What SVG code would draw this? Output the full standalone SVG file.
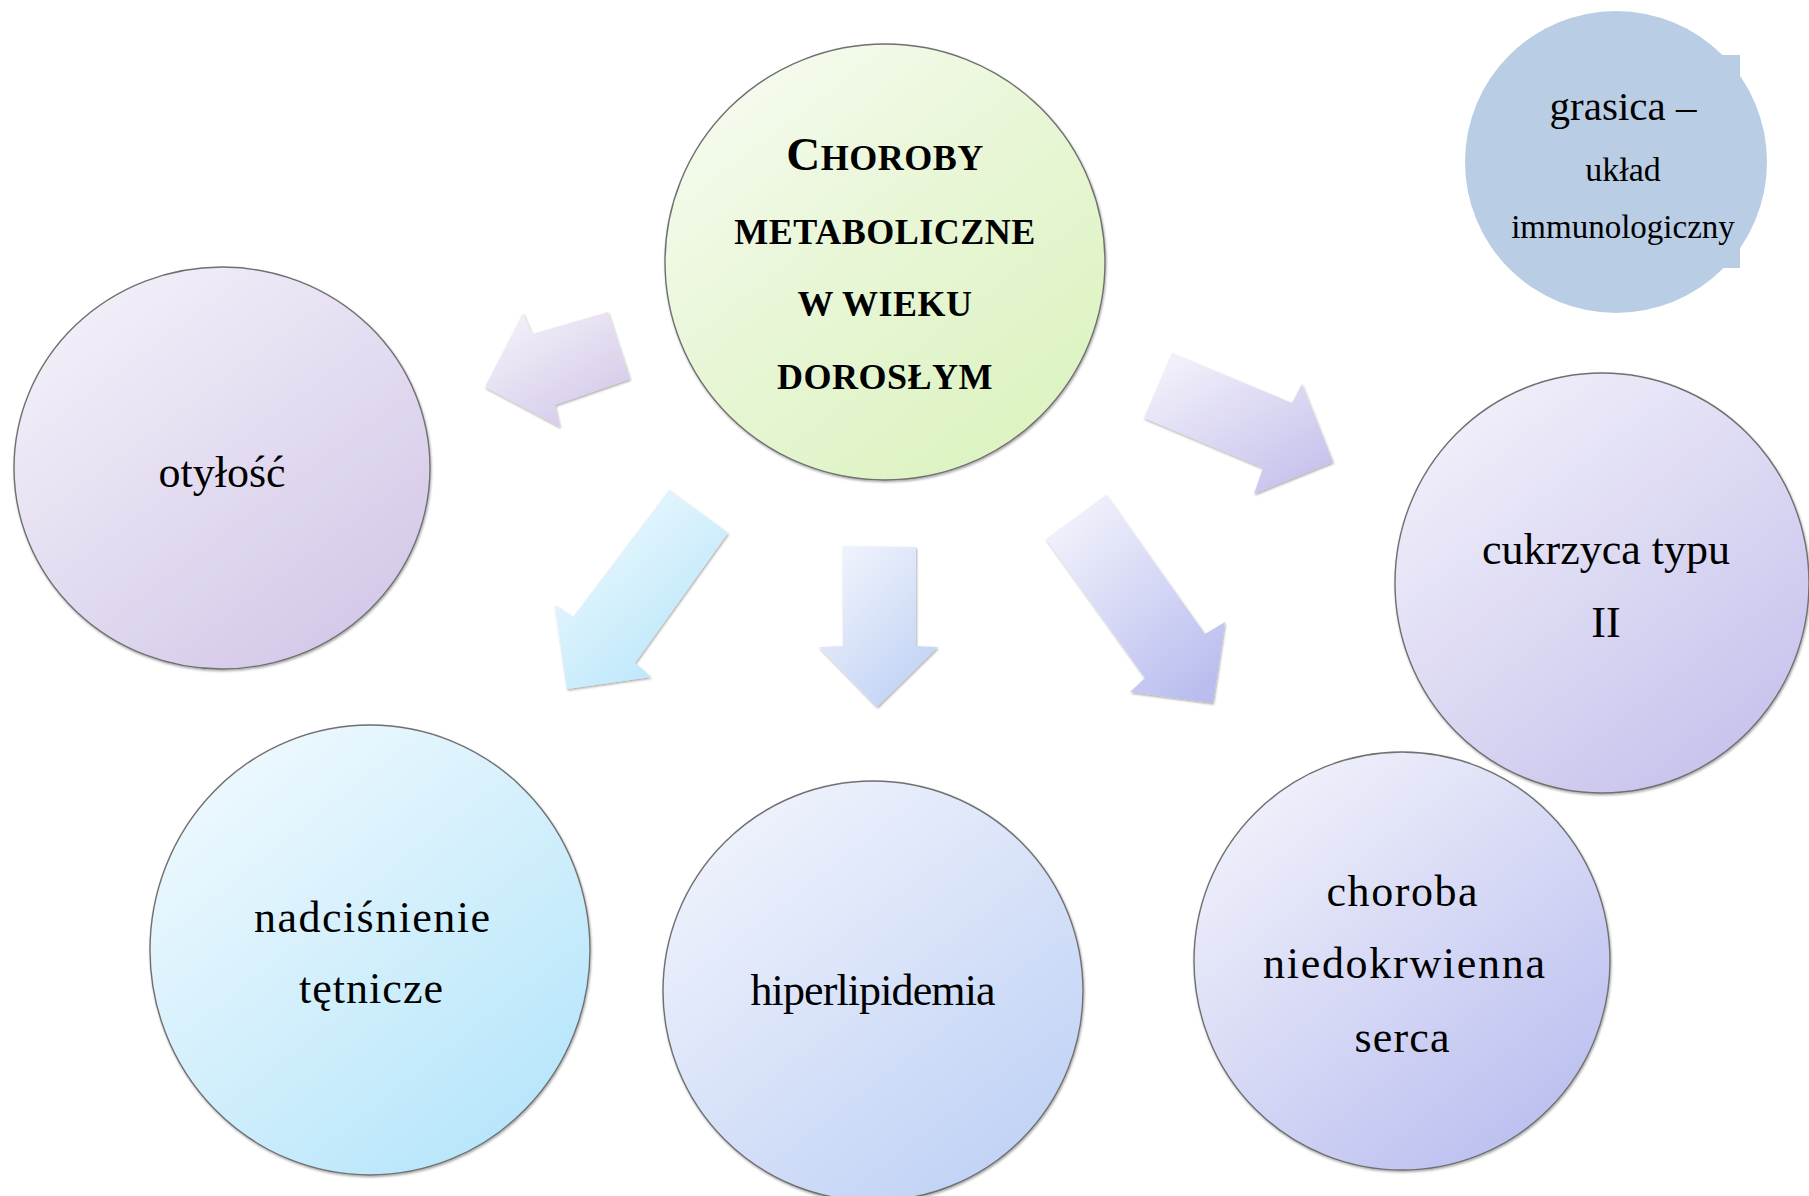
<svg xmlns="http://www.w3.org/2000/svg" width="1809" height="1196" viewBox="0 0 1809 1196">
  <style>
    .lbl { font-family: "Liberation Serif", "DejaVu Serif", serif; font-size: 44px; text-anchor: middle; fill: #000; }
    .hdr { font-family: "Liberation Serif", "DejaVu Serif", serif; font-weight: bold; font-size: 36px; text-anchor: middle; fill: #000; letter-spacing: 0.5px; }
    .gr { font-family: "Liberation Serif", "DejaVu Serif", serif; text-anchor: middle; fill: #000; }
    .circ { stroke: #707070; stroke-width: 1.4; filter: url(#sh); }
    .arr { stroke: none; filter: url(#sh); }
  </style>
  <defs>
    <filter id="sh" x="-10%" y="-10%" width="120%" height="120%">
      <feDropShadow dx="0.8" dy="1.5" stdDeviation="0.9" flood-color="#000" flood-opacity="0.35"/>
    </filter>
    <linearGradient id="gGreen" x1="0.15" y1="0.05" x2="0.85" y2="0.95">
      <stop offset="0" stop-color="#f6fbf0"/>
      <stop offset="0.45" stop-color="#e8f6d6"/>
      <stop offset="1" stop-color="#dcf3c0"/>
    </linearGradient>
    <linearGradient id="gPurple" x1="0.15" y1="0.05" x2="0.85" y2="0.95">
      <stop offset="0" stop-color="#f3f0f9"/>
      <stop offset="1" stop-color="#d3c7e8"/>
    </linearGradient>
    <linearGradient id="gLav" x1="0.15" y1="0.05" x2="0.85" y2="0.95">
      <stop offset="0" stop-color="#f1f0fa"/>
      <stop offset="1" stop-color="#c6c1ec"/>
    </linearGradient>
    <linearGradient id="gCyan" x1="0.15" y1="0.05" x2="0.85" y2="0.95">
      <stop offset="0" stop-color="#eff9fe"/>
      <stop offset="1" stop-color="#b5e5fa"/>
    </linearGradient>
    <linearGradient id="gBlue" x1="0.15" y1="0.05" x2="0.85" y2="0.95">
      <stop offset="0" stop-color="#f0f3fc"/>
      <stop offset="1" stop-color="#bfd1f5"/>
    </linearGradient>
    <linearGradient id="gPeri" x1="0.15" y1="0.05" x2="0.85" y2="0.95">
      <stop offset="0" stop-color="#f1f2fb"/>
      <stop offset="1" stop-color="#babeef"/>
    </linearGradient>
  </defs>

  <rect width="1809" height="1196" fill="#ffffff"/>

  <g id="connectors">
    <polygon class="arr" fill="url(#gPurple)" points="485,387 523,313 532,334 608,312 630,379 555,405 560,427"/>
    <polygon class="arr" fill="url(#gLav)" points="1172,353 1292,403 1302,384 1333,462 1254,494 1263,468 1144,418"/>
    <polygon class="arr" fill="url(#gCyan)" points="669,490 728,533 635,663 651,677 567,689 555,605 573,617"/>
    <polygon class="arr" fill="url(#gBlue)" points="843,546 916,547 916,646 938,647 877,707 819,647 843,646"/>
    <polygon class="arr" fill="url(#gPeri)" points="1106,495 1205,634 1225,622 1213,703 1130,692 1145,678 1046,539"/>
  </g>

  <g id="node-center">
    <ellipse class="circ" cx="885" cy="262" rx="220" ry="218" fill="url(#gGreen)"/>
    <text class="hdr" x="885" y="170"><tspan font-size="47">C</tspan>HOROBY</text>
    <text class="hdr" x="885" y="244">METABOLICZNE</text>
    <text class="hdr" x="885" y="316">W WIEKU</text>
    <text class="hdr" x="885" y="389">DOROSŁYM</text>
  </g>

  <g id="node-grasica">
    <rect x="1520" y="55" width="220" height="213" fill="#b9cde5"/>
    <circle cx="1616" cy="162" r="151" fill="#b9cde5"/>
    <text class="gr" x="1623" y="120" font-size="41">grasica –</text>
    <text class="gr" x="1623" y="181" font-size="34">układ</text>
    <text class="gr" x="1623" y="238" font-size="33">immunologiczny</text>
  </g>

  <g id="node-otylosc">
    <ellipse class="circ" cx="222" cy="468" rx="208" ry="201" fill="url(#gPurple)"/>
    <text class="lbl" x="222" y="487">otyłość</text>
  </g>

  <g id="node-cukrzyca">
    <ellipse class="circ" cx="1602" cy="583" rx="207" ry="210" fill="url(#gLav)"/>
    <text class="lbl" x="1606" y="564">cukrzyca typu</text>
    <text class="lbl" x="1606" y="637">II</text>
  </g>

  <g id="node-nadcisnienie">
    <ellipse class="circ" cx="370" cy="950" rx="220" ry="225" fill="url(#gCyan)"/>
    <text class="lbl" x="372" y="932" textLength="236">nadciśnienie</text>
    <text class="lbl" x="371" y="1003" textLength="144">tętnicze</text>
  </g>

  <g id="node-hiperlipidemia">
    <ellipse class="circ" cx="873" cy="991" rx="210" ry="210" fill="url(#gBlue)"/>
    <text class="lbl" x="873" y="1005" textLength="245">hiperlipidemia</text>
  </g>

  <g id="node-choroba">
    <ellipse class="circ" cx="1402" cy="961" rx="208" ry="209" fill="url(#gPeri)"/>
    <text class="lbl" x="1402" y="906" textLength="151">choroba</text>
    <text class="lbl" x="1404" y="978" textLength="282">niedokrwienna</text>
    <text class="lbl" x="1402" y="1052" textLength="95">serca</text>
  </g>
</svg>
